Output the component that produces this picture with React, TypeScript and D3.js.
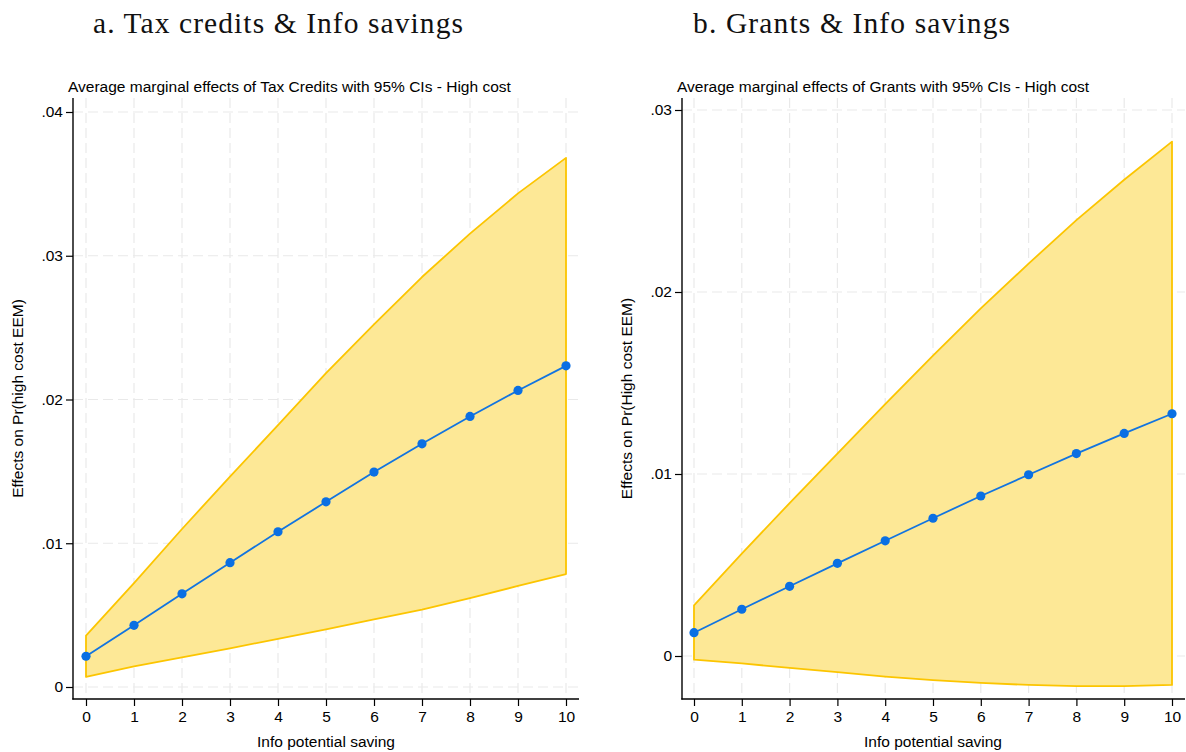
import React, { useEffect, useRef } from "react";
import * as d3 from "d3";

// info potential saving (x axis)
const savings = [0, 1, 2, 3, 4, 5, 6, 7, 8, 9, 10];

// a. tax credits: effect and 95% CI
const taxEffect = [0.00214, 0.00429, 0.00648, 0.00865, 0.0108, 0.01288, 0.01495, 0.01692, 0.01882, 0.02063, 0.02234];
const taxUpper = [0.00357, 0.00723, 0.01099, 0.01464, 0.01821, 0.02184, 0.02522, 0.02852, 0.03154, 0.03434, 0.03681];
const taxLower = [0.00071, 0.00143, 0.00206, 0.00269, 0.00335, 0.00401, 0.0047, 0.00538, 0.00618, 0.00703, 0.00786];
const taxTicks = [0, 0.01, 0.02, 0.03, 0.04];

// b. grants: effect and 95% CI
const grantEffect = [0.00128, 0.00257, 0.00383, 0.00509, 0.00633, 0.00757, 0.00879, 0.00996, 0.01112, 0.01223, 0.01331];
const grantUpper = [0.00278, 0.00563, 0.0084, 0.01112, 0.01384, 0.01651, 0.0191, 0.02156, 0.02395, 0.02617, 0.02826];
const grantLower = [-0.0002, -0.00041, -0.00065, -0.00089, -0.00113, -0.00133, -0.00148, -0.00159, -0.00165, -0.00165, -0.00159];
const grantTicks = [0, 0.01, 0.02, 0.03];

const FONT = "'Liberation Sans', Arial, Helvetica, sans-serif";
const fmt = (v: number) => (v === 0 ? "0" : d3.format(".2f")(v).replace(/^0/, "").replace(/^-0/, "-"));

type PanelProps = {
  heading: string;
  headingX: number;
  headingW: number;
  title: string;
  yLabel: string;
  effect: number[];
  upper: number[];
  lower: number[];
  ticks: number[];
  frame: { left: number; right: number; top: number; bottom: number };
  xRange: [number, number];
  yDomain: [number, number];
  yRange: [number, number];
};

function Panel(p: PanelProps) {
  const ref = useRef<SVGGElement>(null);

  useEffect(() => {
    const g = d3.select(ref.current);
    g.selectAll("*").remove();
    const { left, right, top, bottom } = p.frame;

    const x = d3.scaleLinear().domain([0, 10]).range(p.xRange);
    const y = d3.scaleLinear().domain(p.yDomain).range(p.yRange);

    // gridlines
    const grid = g.append("g").attr("stroke", "#e9e9e9").attr("stroke-width", 1.2).attr("stroke-dasharray", "10,5");
    grid.selectAll("line.h").data(p.ticks).join("line").attr("class", "h")
      .attr("x1", left).attr("x2", right).attr("y1", (d) => y(d)).attr("y2", (d) => y(d));
    grid.selectAll("line.v").data(savings).join("line").attr("class", "v")
      .attr("x1", (d) => x(d)).attr("x2", (d) => x(d)).attr("y1", top).attr("y2", bottom);

    // confidence band
    const rows = savings.map((s, i) => ({ s, lo: p.lower[i], hi: p.upper[i], m: p.effect[i] }));
    const area = d3.area<any>().x((d) => x(d.s)).y0((d) => y(d.lo)).y1((d) => y(d.hi));
    g.append("path").datum(rows).attr("d", area).attr("fill", "#fde896")
      .attr("stroke", "#fcc500").attr("stroke-width", 1.8).attr("stroke-linejoin", "round");

    // point estimates
    const line = d3.line<any>().x((d) => x(d.s)).y((d) => y(d.m));
    g.append("path").datum(rows).attr("d", line).attr("fill", "none").attr("stroke", "#1274e0").attr("stroke-width", 1.8);
    g.selectAll("circle").data(rows).join("circle")
      .attr("cx", (d) => x(d.s)).attr("cy", (d) => y(d.m)).attr("r", 4.6).attr("fill", "#0a6fe3");

    // axes
    const yAxis = g.append("g").attr("transform", `translate(${left},0)`)
      .call(d3.axisLeft(y).tickValues(p.ticks).tickSize(7).tickPadding(3).tickFormat((d) => fmt(+d)));
    yAxis.select(".domain").remove();
    const xAxis = g.append("g").attr("transform", `translate(0,${bottom})`)
      .call(d3.axisBottom(x).tickValues(savings).tickSize(7).tickPadding(5).tickFormat((d) => String(d)));
    xAxis.select(".domain").remove();
    [yAxis, xAxis].forEach((a) => {
      a.selectAll("text").attr("font-family", FONT).attr("font-size", 15.5).attr("fill", "#000");
      a.selectAll("line").attr("stroke", "#000").attr("stroke-width", 1.2);
    });
    g.append("line").attr("x1", left).attr("x2", left).attr("y1", top).attr("y2", bottom + 0.6)
      .attr("stroke", "#000").attr("stroke-width", 1.4);
    g.append("line").attr("x1", left - 0.7).attr("x2", right).attr("y1", bottom).attr("y2", bottom)
      .attr("stroke", "#000").attr("stroke-width", 1.4);

    // texts
    g.append("text").attr("x", p.headingX).attr("y", 33).text(p.heading)
      .attr("textLength", p.headingW).attr("lengthAdjust", "spacing")
      .attr("font-family", "'Liberation Serif', 'Times New Roman', serif").attr("font-size", 29.5).attr("fill", "#111");
    g.append("text").attr("x", left - 5).attr("y", 92).text(p.title)
      .attr("font-family", FONT).attr("font-size", 15.5).attr("fill", "#000");
    g.append("text").attr("transform", `translate(${left - 50},${(top + bottom) / 2}) rotate(-90)`)
      .attr("text-anchor", "middle").text(p.yLabel)
      .attr("font-family", FONT).attr("font-size", 15.5).attr("fill", "#000");
    g.append("text").attr("x", (p.xRange[0] + p.xRange[1]) / 2).attr("y", 747).attr("text-anchor", "middle")
      .text("Info potential saving").attr("font-family", FONT).attr("font-size", 15.5).attr("fill", "#000");
  }, [p]);

  return <g ref={ref} />;
}

export default function App() {
  return (
    <div style={{ position: "absolute", left: 0, top: 0 }}>
      <svg width={1186} height={752} style={{ display: "block", background: "#fff" }}>
        <Panel
          heading="a. Tax credits & Info savings"
          headingX={93}
          headingW={370}
          title="Average marginal effects of Tax Credits with 95% CIs - High cost"
          yLabel="Effects on Pr(high cost EEM)"
          effect={taxEffect}
          upper={taxUpper}
          lower={taxLower}
          ticks={taxTicks}
          frame={{ left: 73, right: 579, top: 98, bottom: 699 }}
          xRange={[86, 566]}
          yDomain={[0, 0.04]}
          yRange={[687, 112]}
        />
        <Panel
          heading="b. Grants & Info savings"
          headingX={693}
          headingW={317}
          title="Average marginal effects of Grants with 95% CIs - High cost"
          yLabel="Effects on Pr(High cost EEM)"
          effect={grantEffect}
          upper={grantUpper}
          lower={grantLower}
          ticks={grantTicks}
          frame={{ left: 682, right: 1185, top: 98, bottom: 699 }}
          xRange={[694, 1172]}
          yDomain={[0, 0.03]}
          yRange={[656, 110]}
        />
      </svg>
    </div>
  );
}
